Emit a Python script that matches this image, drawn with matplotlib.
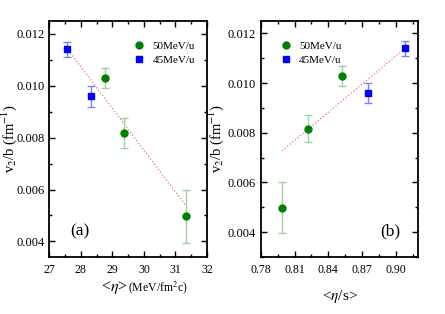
import matplotlib
matplotlib.use("Agg")
import matplotlib.pyplot as plt
from matplotlib.ticker import MultipleLocator, FormatStrFormatter

plt.rcParams['font.family'] = ['Liberation Serif', 'DejaVu Serif']
plt.rcParams['mathtext.fontset'] = 'stix'

# panel (a): v2/b vs <eta>
eta_50 = [28.76, 29.36, 31.35]
v2b_50_a = [0.0103, 0.00818, 0.00497]
err_50_a = [0.0004, 0.00056, 0.00103]
eta_45 = [27.57, 28.31]
v2b_45_a = [0.0114, 0.0096]
err_45_a = [0.0003, 0.0004]
fit_a_x = [27.6, 31.35]
fit_a_y = [0.01137, 0.00535]

# panel (b): v2/b vs <eta/s>
etas_50 = [0.799, 0.822, 0.852]
v2b_50_b = [0.00498, 0.00817, 0.0103]
err_50_b = [0.00103, 0.00056, 0.0004]
etas_45 = [0.875, 0.908]
v2b_45_b = [0.0096, 0.0114]
err_45_b = [0.0004, 0.0003]
fit_b_x = [0.799, 0.907]
fit_b_y = [0.00727, 0.01135]

green = '#008000'
blue = '#0000ff'

fig = plt.figure(figsize=(4.45, 3.14), dpi=100)
ax1 = fig.add_axes([0.111, 0.1815, 0.354, 0.752])
ax2 = fig.add_axes([0.586, 0.1815, 0.354, 0.752])


def draw(ax, x50, y50, e50, x45, y45, e45, fx, fy):
    ax.plot(fx, fy, ls=':', color='#ff7070', lw=0.9, zorder=1)
    ax.errorbar(x50, y50, yerr=e50, fmt='none', ecolor='#9fd09f',
                elinewidth=1.0, capsize=3, capthick=1.0, zorder=2)
    ax.errorbar(x45, y45, yerr=e45, fmt='none', ecolor='#8080ff',
                elinewidth=1.0, capsize=3, capthick=1.0, zorder=2)
    ax.plot(x50, y50, 'o', color=green, ms=5, ls='none', label='50MeV/u', zorder=3)
    ax.plot(x45, y45, 's', color=blue, ms=4.8, ls='none', label='45MeV/u', zorder=3)
    ax.tick_params(which='both', direction='in', top=True, right=True)
    ax.tick_params(axis='y', labelsize=9)
    ax.tick_params(axis='x', labelsize=8.5, pad=5)
    ax.tick_params(which='major', length=4, width=1)
    ax.tick_params(which='minor', length=2.5, width=1)
    for s in ax.spines.values():
        s.set_linewidth(1.3)
    ax.yaxis.set_major_locator(MultipleLocator(0.002))
    ax.yaxis.set_minor_locator(MultipleLocator(0.001))
    ax.yaxis.set_major_formatter(FormatStrFormatter('%.3f'))
    ax.set_ylabel('v$_2$/b (fm$^{-1}$)', fontsize=10.5)


draw(ax1, eta_50, v2b_50_a, err_50_a, eta_45, v2b_45_a, err_45_a, fit_a_x, fit_a_y)
draw(ax2, etas_50, v2b_50_b, err_50_b, etas_45, v2b_45_b, err_45_b, fit_b_x, fit_b_y)

ax1.set_xlim(27, 32)
ax1.set_ylim(0.0034, 0.0125)
ax1.xaxis.set_major_locator(MultipleLocator(1))
ax1.xaxis.set_minor_locator(MultipleLocator(0.5))
ax1.yaxis.set_label_coords(-0.195, 0.5)
ax1.legend(loc='upper left', bbox_to_anchor=(0.463, 0.956), frameon=False,
           fontsize=8, handletextpad=0.6, labelspacing=0.35, handlelength=1.2)
ax1.text(0.13, 0.09, '(a)', transform=ax1.transAxes, fontsize=12.5)
ax1.text(0.5, -0.13, '<$\\eta$>', transform=ax1.transAxes, fontsize=11.5,
         ha='right', va='center')
ax1.text(0.5, -0.13, '(MeV/fm$^2$c)', transform=ax1.transAxes, fontsize=8.5,
         ha='left', va='center')

ax2.set_xlim(0.78, 0.92)
ax2.set_ylim(0.003, 0.0125)
ax2.xaxis.set_major_locator(MultipleLocator(0.03))
ax2.xaxis.set_minor_locator(MultipleLocator(0.015))
ax2.xaxis.set_major_formatter(FormatStrFormatter('%.2f'))
ax2.yaxis.set_label_coords(-0.22, 0.5)
ax2.legend(loc='upper left', bbox_to_anchor=(0.052, 0.956), frameon=False,
           fontsize=8, handletextpad=0.6, labelspacing=0.35, handlelength=1.2)
ax2.text(0.757, 0.09, '(b)', transform=ax2.transAxes, fontsize=12.5)
ax2.set_xlabel('<$\\eta$/s>', fontsize=11, labelpad=9)

fig.savefig('out.png', dpi=100)
